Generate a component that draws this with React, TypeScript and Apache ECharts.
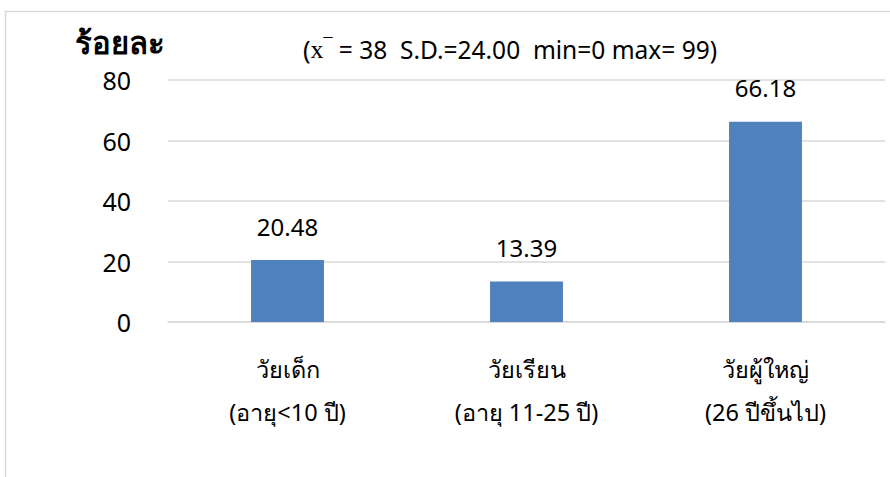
import React, { useEffect, useRef } from "react";
import * as echarts from "echarts";

const categories = ["วัยเด็ก\n(อายุ<10 ปี)", "วัยเรียน\n(อายุ 11-25 ปี)", "วัยผู้ใหญ่\n(26 ปีขึ้นไป)"];
const values = [20.48, 13.39, 66.18];
const yTicks = { min: 0, max: 80, interval: 20 };
const yTitle = "ร้อยละ";
const statsText = "= 38  S.D.=24.00  min=0 max= 99)";

const FONT = "'Noto Sans', sans-serif";

export default function App() {
  const ref = useRef<HTMLDivElement>(null);
  useEffect(() => {
    const chart = echarts.init(ref.current!, null, { renderer: "svg" });
    chart.setOption({
      animation: false,
      backgroundColor: "#ffffff",
      grid: { left: 168, right: 5, top: 80, bottom: 155 },
      xAxis: {
        type: "category",
        data: categories,
        axisLine: { lineStyle: { color: "#d9d9d9", width: 1.5 } },
        axisTick: { show: false },
        axisLabel: {
          interval: 0,
          margin: 25,
          fontFamily: FONT,
          fontSize: 23.5,
          lineHeight: 43,
          color: "#000000",
        },
      },
      yAxis: {
        type: "value",
        min: yTicks.min,
        max: yTicks.max,
        interval: yTicks.interval,
        axisLine: { show: false },
        axisTick: { show: false },
        splitLine: { lineStyle: { color: "#d9d9d9", width: 1.5 } },
        axisLabel: {
          margin: 37,
          fontFamily: FONT,
          fontSize: 25,
          color: "#000000",
        },
      },
      series: [
        {
          type: "bar",
          data: values,
          barWidth: "30.5%",
          itemStyle: { color: "#4f81bd" },
          label: {
            show: true,
            position: "top",
            distance: 22,
            fontFamily: FONT,
            fontSize: 24,
            color: "#000000",
            formatter: (p: any) => p.value.toFixed(2),
          },
        },
      ],
      graphic: [
        {
          type: "rect",
          z: -10,
          shape: { x: 5.5, y: 11.5, width: 1000, height: 600 },
          style: { fill: "none", stroke: "#d9d9d9", lineWidth: 1.5 },
        },
        {
          type: "text",
          left: 75,
          top: 26,
          style: {
            text: yTitle,
            font: "bold 31px 'Noto Sans', sans-serif",
            fill: "#000000",
          },
        },
        {
          type: "text",
          left: 303,
          top: 36,
          style: {
            text: "{p|(}{x|x}{m|¯}{t| " + statsText + "}",
            rich: {
              p: { fontFamily: FONT, fontSize: 25, fill: "#000" },
              x: { fontFamily: "'Liberation Serif', serif", fontSize: 26, fill: "#000" },
              m: { fontFamily: "'Liberation Serif', serif", fontSize: 18, fill: "#000", verticalAlign: "top" },
              t: { fontFamily: FONT, fontSize: 24.5, fill: "#000" },
            },
          },
        },
      ],
    });
    return () => chart.dispose();
  }, []);
  return (
    <div
      ref={ref}
      style={{ position: "fixed", left: 0, top: 0, width: 890, height: 477 }}
    />
  );
}
